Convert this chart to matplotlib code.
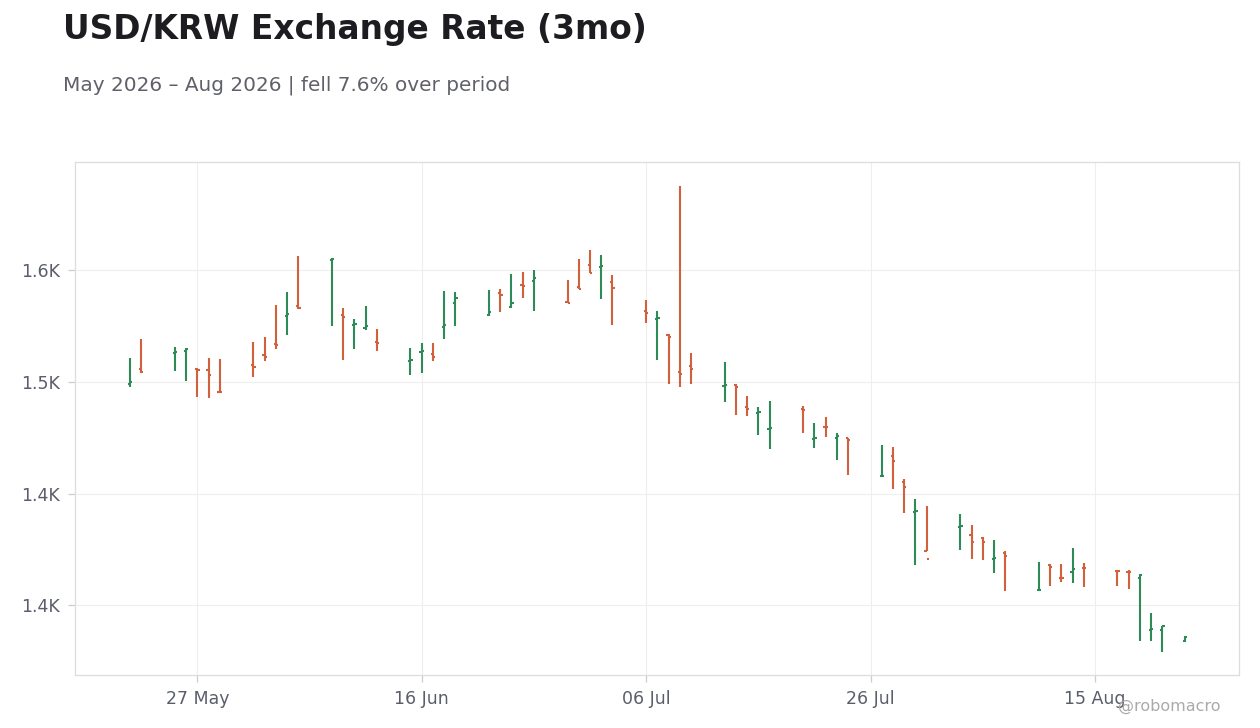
import datetime as dt
import matplotlib
matplotlib.use("Agg")
import matplotlib.pyplot as plt
import matplotlib.dates as mdates
from matplotlib.ticker import FuncFormatter, FixedLocator

# daily OHLC, USD/KRW
dates = [
    "2026-05-21", "2026-05-22", "2026-05-25", "2026-05-26", "2026-05-27", "2026-05-28", "2026-05-29",
    "2026-06-01", "2026-06-02", "2026-06-03", "2026-06-04", "2026-06-05",
    "2026-06-08", "2026-06-09", "2026-06-10", "2026-06-11", "2026-06-12",
    "2026-06-15", "2026-06-16", "2026-06-17", "2026-06-18", "2026-06-19",
    "2026-06-22", "2026-06-23", "2026-06-24", "2026-06-25", "2026-06-26",
    "2026-06-29", "2026-06-30", "2026-07-01", "2026-07-02", "2026-07-03",
    "2026-07-06", "2026-07-07", "2026-07-08", "2026-07-09", "2026-07-10",
    "2026-07-13", "2026-07-14", "2026-07-15", "2026-07-16", "2026-07-17",
    "2026-07-20", "2026-07-21", "2026-07-22", "2026-07-23", "2026-07-24",
    "2026-07-27", "2026-07-28", "2026-07-29", "2026-07-30", "2026-07-31",
    "2026-08-03", "2026-08-04", "2026-08-05", "2026-08-06", "2026-08-07",
    "2026-08-10", "2026-08-11", "2026-08-12", "2026-08-13", "2026-08-14",
    "2026-08-17", "2026-08-18", "2026-08-19", "2026-08-20", "2026-08-21",
    "2026-08-23",
]
opens = [
    1499.1, 1505.9, 1513.1, 1514.0, 1505.9, 1505.5, 1495.6,
    1507.7, 1512.0, 1517.0, 1529.6, 1534.1,
    1554.7, 1530.1, 1525.6, 1524.3, 1518.0,
    1509.5, 1513.5, 1512.6, 1524.7, 1535.5,
    1530.1, 1539.9, 1533.7, 1543.5, 1545.3,
    1535.9, 1542.6, 1552.5, 1551.6, 1544.9,
    1531.9, 1528.3, 1521.1, 1504.6, 1507.3,
    1498.3, 1498.6, 1488.9, 1486.2, 1479.1,
    1488.0, 1474.6, 1480.0, 1475.0, 1474.8,
    1457.8, 1467.0, 1455.3, 1441.9, 1424.4,
    1435.1, 1431.6, 1430.3, 1420.9, 1423.6,
    1406.9, 1418.2, 1412.4, 1414.9, 1416.8,
    1415.5, 1415.0, 1412.4, 1389.1, 1389.1,
    1384.2,
]
highs = [
    1510.8, 1519.2, 1515.6, 1515.2, 1506.2, 1510.7, 1510.3,
    1517.9, 1520.1, 1534.4, 1540.2, 1556.4,
    1555.5, 1533.1, 1528.2, 1534.0, 1523.7,
    1515.2, 1517.4, 1517.4, 1540.7, 1540.2,
    1541.1, 1541.6, 1548.3, 1549.2, 1550.1,
    1545.6, 1555.0, 1559.0, 1556.8, 1547.9,
    1536.7, 1531.7, 1521.6, 1587.7, 1512.9,
    1508.9, 1498.9, 1493.7, 1488.8, 1491.5,
    1489.4, 1481.6, 1484.3, 1477.0, 1475.0,
    1471.8, 1470.9, 1456.4, 1447.6, 1444.5,
    1440.9, 1436.0, 1430.4, 1429.2, 1424.3,
    1419.4, 1418.5, 1418.5, 1425.7, 1418.9,
    1415.9, 1415.8, 1414.2, 1396.6, 1390.9,
    1386.3,
]
lows = [
    1497.9, 1504.1, 1505.0, 1500.5, 1493.4, 1492.9, 1495.2,
    1502.3, 1509.5, 1514.9, 1521.1, 1532.5,
    1525.2, 1509.9, 1514.9, 1523.4, 1514.0,
    1503.2, 1504.1, 1509.5, 1519.3, 1525.2,
    1529.6, 1531.4, 1533.2, 1537.7, 1531.9,
    1535.2, 1541.7, 1548.7, 1537.2, 1525.6,
    1526.5, 1509.9, 1499.2, 1497.9, 1499.2,
    1491.1, 1485.3, 1484.9, 1476.4, 1470.1,
    1477.3, 1470.6, 1475.5, 1465.2, 1458.5,
    1457.6, 1452.2, 1441.5, 1418.2, 1424.4,
    1424.9, 1420.9, 1420.4, 1414.6, 1406.5,
    1406.4, 1408.8, 1410.6, 1410.1, 1408.3,
    1408.8, 1407.4, 1384.2, 1384.2, 1379.2,
    1383.7,
]
closes = [
    1500.1, 1504.6, 1513.3, 1514.9, 1505.5, 1503.1, 1495.3,
    1506.8, 1511.2, 1516.5, 1530.5, 1533.1,
    1554.8, 1529.2, 1526.1, 1525.2, 1517.6,
    1509.6, 1513.6, 1511.3, 1525.6, 1537.7,
    1531.4, 1539.0, 1535.5, 1543.1, 1546.6,
    1535.3, 1541.7, 1548.7, 1552.0, 1542.2,
    1531.0, 1528.7, 1520.2, 1503.7, 1505.9,
    1498.8, 1497.9, 1488.0, 1486.3, 1479.2,
    1487.6, 1475.0, 1479.8, 1475.9, 1474.1,
    1458.0, 1464.7, 1453.1, 1442.4, 1420.9,
    1435.6, 1428.3, 1428.5, 1421.3, 1422.2,
    1407.0, 1417.3, 1412.3, 1416.3, 1416.7,
    1415.4, 1414.9, 1413.7, 1389.2, 1390.9,
    1386.0,
]
y_ticks = [1400, 1450, 1500, 1550]
x_ticks = ["2026-05-27", "2026-06-16", "2026-07-06", "2026-07-26", "2026-08-15"]

UP = "#2e8b57"
DOWN = "#d1603d"

x = mdates.date2num([dt.date.fromisoformat(d) for d in dates])

fig = plt.figure(figsize=(12.6, 7.28), dpi=100)
ax = fig.add_axes([0.0595, 0.0728, 0.9238, 0.7047])

colors = [UP if c >= o else DOWN for o, c in zip(opens, closes)]
tick_w = 0.2
ax.vlines(x, lows, highs, colors=colors, linewidth=1.5)
ax.hlines(opens, x - tick_w, x, colors=colors, linewidth=1.5)
ax.hlines(closes, x, x + tick_w, colors=colors, linewidth=1.5)

x0 = mdates.date2num(dt.date(2026, 5, 27))
ax.set_xlim(x0 - 10.9, x0 + 80 + 12.83)
ax.set_ylim(1368.8, 1598.4)

ax.xaxis.set_major_locator(FixedLocator(mdates.date2num([dt.date.fromisoformat(d) for d in x_ticks])))
ax.xaxis.set_major_formatter(mdates.DateFormatter("%d %b"))
ax.yaxis.set_major_locator(FixedLocator(y_ticks))
ax.yaxis.set_major_formatter(FuncFormatter(lambda v, p: f"{v / 1000:.1f}K"))

ax.grid(True, color="#eeeeee", linewidth=0.8)
ax.set_axisbelow(True)
for s in ax.spines.values():
    s.set_color("#dddddd")
    s.set_linewidth(0.9)
ax.tick_params(colors="#cccccc", labelcolor="#5a5e6b", labelsize=12.5, length=5, width=0.9, pad=6)

fig.text(0.05, 0.947, "USD/KRW Exchange Rate (3mo)", fontsize=23.7, fontweight="bold",
         color="#1c1c21", ha="left", va="baseline")
fig.text(0.05, 0.876, "May 2026 \u2013 Aug 2026 | fell 7.6% over period", fontsize=14.4,
         color="#5f6069", ha="left", va="baseline")
fig.text(0.969, 0.024, "@robomacro", fontsize=11.5, color="#aaaaaa", ha="right", va="baseline")

fig.savefig("out.png", dpi=100, facecolor="white")
